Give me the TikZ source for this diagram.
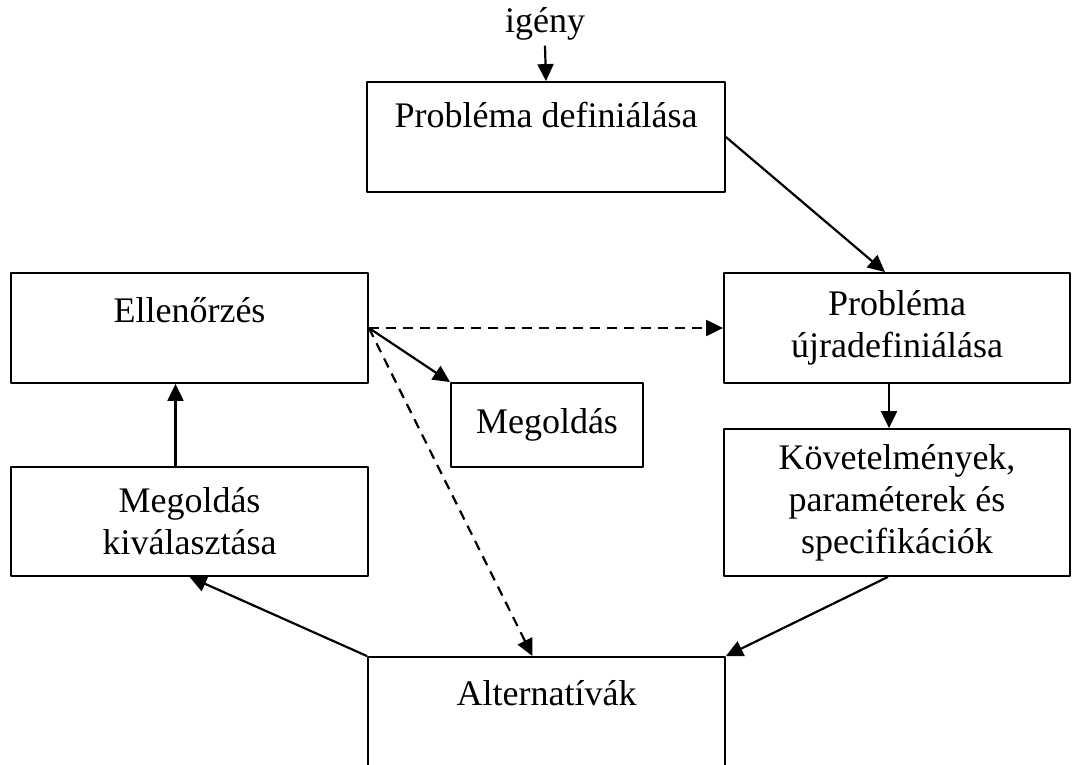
\documentclass[tikz,border=0pt]{standalone}
\usepackage{fontspec}
\setmainfont{Liberation Serif}
\usetikzlibrary{arrows.meta}
\begin{document}
\begin{tikzpicture}[x=0.5pt,y=-0.5pt,line join=round,>={Triangle[length=8.5pt,width=8pt]},thick]
    \tikzset{every node/.style={font=\fontsize{18}{21}\selectfont},
        box/.style={draw,line width=0.9pt,inner sep=0pt,align=center},
        conn/.style={->,line width=1.1pt},
        back/.style={conn,dash pattern=on 5pt off 3.5pt}}
    \clip (0,0) rectangle (1072,765);
    % boxes
    \node[box,minimum width=179pt,minimum height=55pt] (pd) at (546,137) {};
    \node[box,minimum width=178.5pt,minimum height=55pt] (ell) at (189.5,328) {};
    \node[box,minimum width=173pt,minimum height=55pt] (ujr) at (897,328) {Probléma\\újradefiniálása};
    \node[box,minimum width=96pt,minimum height=42pt] (meg) at (547,425) {Megoldás};
    \node[box,minimum width=173pt,minimum height=73.5pt] (kov) at (897,502.5) {Követelmények,\\paraméterek és\\specifikációk};
    \node[box,minimum width=178.5pt,minimum height=54.5pt] (kiv) at (189.5,521.5) {Megoldás\\kiválasztása};
    \node[box,minimum width=178.5pt,minimum height=71.5pt] (alt) at (546.5,728.5) {};
    % texts at the top of the boxes
    \node[anchor=base] (pdtxt) at (546,128) {Probléma definiálása};
    \node[anchor=base] (elltxt) at (189.5,322) {Ellenőrzés};
    \node[anchor=base] (alttxt) at (546.5,705) {Alternatívák};
    \node[anchor=base,inner sep=2pt] (igeny) at (545,33) {igény};
    % connectors
    \draw[conn] (igeny.south) -- (pd.north);
    \draw[conn] (pd.east) -- ([xshift=-6pt]ujr.north);
    \draw[back] (ell.east) -- (ujr.west);
    \draw[conn] (ell.east) -- (meg.north west);
    \draw[back] (ell.east) -- ([xshift=-7pt]alt.north);
    \draw[conn] ([xshift=-4pt]ujr.south) -- ([xshift=-4pt]kov.north);
    \draw[conn] ([xshift=-4.5pt]kov.south) -- (alt.north east);
    \draw[conn] (alt.north west) -- (kiv.south);
    \draw[conn] ([xshift=-7pt]kiv.north) -- ([xshift=-7pt]ell.south);
\end{tikzpicture}
\end{document}
